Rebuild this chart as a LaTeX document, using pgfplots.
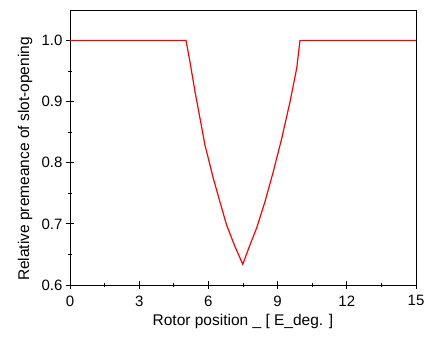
\documentclass[border=0pt]{standalone}
\usepackage{fontspec}
\setmainfont{Liberation Sans}
\usepackage{pgfplots}
\pgfplotsset{compat=1.18}
\begin{document}
\begin{tikzpicture}
\begin{axis}[
  scale only axis,
  width=346pt, height=275pt,
  xmin=0, xmax=15, ymin=0.6, ymax=1.05,
  xtick={0,3,6,9,12,15},
  ytick={0.6,0.7,0.8,0.9,1.0},
  minor x tick num=1, minor y tick num=1,
  tick pos=left,
  tick align=center,
  major tick length=8pt, minor tick length=4pt,
  tick style={black, line width=0.8pt},
  axis line style={black, line width=0.8pt},
  /pgf/number format/assume math mode=true,
  yticklabel style={/pgf/number format/.cd, fixed, fixed zerofill, precision=1},
  xticklabel style={yshift=-3pt},
  ticklabel style={font=\fontsize{15}{16}\selectfont},
  label style={font=\fontsize{15.5}{17}\selectfont},
  xlabel={Rotor position \_ [ E\_deg. ]},
  ylabel={Relative premeance of slot-opening},
  xlabel style={at={(axis description cs:0.5,-0.133)}, anchor=center},
  ylabel style={at={(axis description cs:-0.130,0.458)}, anchor=center},
]
\addplot[red, line width=1.2pt] coordinates {
 (0,1.0) (5.03,1.0) (5.20,0.9655) (5.42,0.916) (5.635,0.873) (5.85,0.829)
 (6.21,0.775) (6.50,0.736) (6.79,0.698) (7.15,0.663) (7.49,0.634)
 (7.80,0.6655) (8.09,0.693) (8.45,0.736) (8.81,0.785) (9.18,0.840)
 (9.54,0.900) (9.83,0.955) (9.97,1.0) (15,1.0)
};
\end{axis}
\pgfresetboundingbox
\path (current axis.south west) ++(-70pt,-55pt) coordinate (bbA);
\path (current axis.north east) ++(8pt,10pt) coordinate (bbB);
\path[use as bounding box] (bbA) rectangle (bbB);
\end{tikzpicture}
\end{document}
